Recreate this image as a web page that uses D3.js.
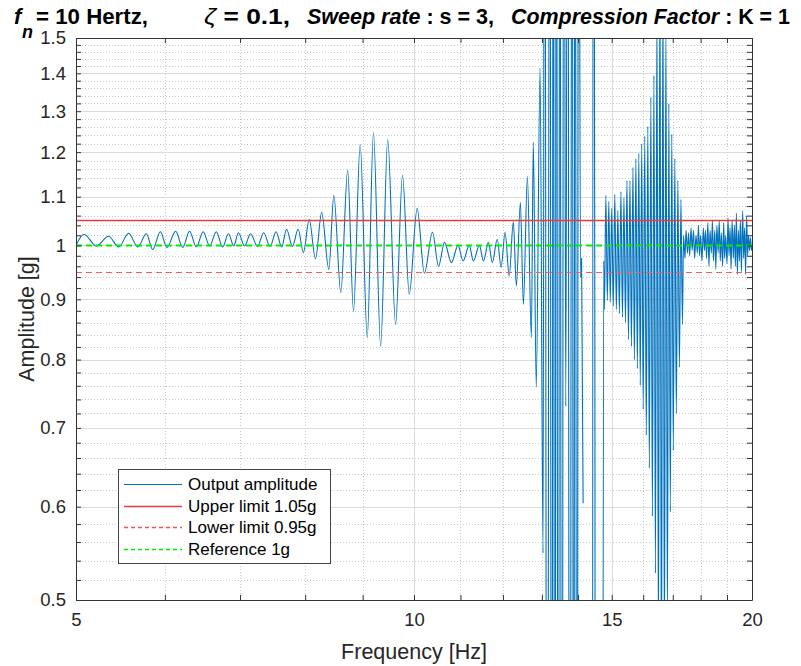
<!DOCTYPE html>
<html>
<head>
<meta charset="utf-8">
<script src="https://cdn.jsdelivr.net/npm/d3@7"></script>
<style>
  body { margin: 0; background: #fff; }
  text { font-family: "Liberation Sans", Arial, sans-serif; }
</style>
</head>
<body>
<svg width="801" height="666"></svg>
<script>
// frequency [Hz] of each sample (null amp = break in the trace)
const freq = [
  5.000, 5.082, 5.214, 5.345, 5.458, 5.570, 5.675, 5.776, 5.851, 5.945,
  6.024, 6.134, 6.223, 6.311, 6.400, 6.489, 6.577, 6.666, 6.755, 6.835,
  6.910, 6.976, 7.065, 7.152, 7.255, 7.347, 7.444, 7.536, 7.624, 7.700,
  7.793, 7.885, 7.971, 8.066, 8.171, 8.275, 8.397, 8.484, 8.606, 8.728,
  8.833, 8.955, 9.086, 9.202, 9.339, 9.475, 9.630, 9.767, 9.903, 10.065,
  10.215, 10.387, 10.516, 10.645, 10.796, 10.946, 11.059, 11.200, 11.294, 11.436,
  11.531, 11.649, 11.743, 11.861, 11.956, 12.054, 12.156, 12.259, 12.336, 12.438,
  12.515, 12.618, 12.721, 12.772, 12.849, 12.951, 13.030,
  13.072, 13.141, 13.210, 13.265, 13.307, 13.348, 13.390, 13.445, 13.486, 13.541,
  13.597, 13.652, 13.707, 13.762, 13.831, 13.873, 13.914, 13.970, 14.012, 14.071,
  14.101, 14.146, 14.300,
  14.414, 14.446, 14.491, 14.521, 14.600, 14.699, 14.756,
  14.777, 14.821, 14.866, 14.911, 14.955, 15.000, 15.048, 15.095, 15.143, 15.190,
  15.238, 15.286, 15.333, 15.381, 15.429, 15.476, 15.524, 15.571, 15.619, 15.667,
  15.714, 15.762, 15.810, 15.857, 15.905, 15.952, 16.000, 16.051, 16.102, 16.153,
  16.203, 16.254, 16.305, 16.356, 16.407, 16.458, 16.508, 16.559, 16.610, 16.661,
  16.712, 16.763, 16.814, 16.864, 16.915, 16.966, 17.018, 17.072, 17.125, 17.179,
  17.233, 17.287, 17.341,
  17.38, 17.43, 17.47, 17.52, 17.56, 17.60, 17.65, 17.69, 17.74, 17.78,
  17.83, 17.88, 17.92, 17.96, 18.00, 18.05, 18.10, 18.14, 18.18, 18.22,
  18.27, 18.31, 18.35, 18.40, 18.44, 18.48, 18.53, 18.57, 18.61, 18.66,
  18.70, 18.74, 18.78, 18.83, 18.87, 18.91, 18.95, 19.00, 19.04, 19.08,
  19.12, 19.16, 19.20, 19.25, 19.29, 19.33, 19.37, 19.41, 19.45, 19.49,
  19.53, 19.57, 19.62, 19.66, 19.70, 19.74, 19.78, 19.82, 19.86, 19.90,
  19.94, 19.98, 20.00
];

// output amplitude [g]
const amp = [
  1.000, 1.022, 0.999, 1.018, 0.997, 1.024, 0.997, 1.023, 0.992, 1.027,
  0.996, 1.028, 0.996, 1.028, 0.997, 1.027, 0.999, 1.027, 0.997, 1.023,
  0.999, 1.025, 0.999, 1.023, 0.998, 1.025, 0.998, 1.027, 0.997, 1.032,
  0.998, 1.032, 0.986, 1.052, 0.974, 1.067, 0.954, 1.103, 0.912, 1.158,
  0.879, 1.218, 0.835, 1.247, 0.821, 1.230, 0.857, 1.147, 0.909, 1.075,
  0.947, 1.026, 0.960, 1.006, 0.967, 1.000, 0.970, 1.000, 0.970, 1.000,
  0.970, 1.006, 0.967, 1.012, 0.958, 1.026, 0.942, 1.047, 0.924, 1.088,
  0.891, 1.144, 0.835, 1.224, 0.758, 1.414, 0.548,
  4, 0.12, 4, 0.12, 4, 0.12, 4, 0.12, 4, 0.12,
  3.5, 0.73, 4, 0.12, 4, 0.12, 4, 0.12, 4, 0.94,
  0.975, 0.604, null,
  0.05, 6, 0.80, 0.05, 0.02, 0.05, 0.97,
  0.882, 1.103, 0.898, 1.090, 0.895, 1.075, 0.888, 1.105, 0.882, 1.071,
  0.875, 1.111, 0.869, 1.098, 0.860, 1.135, 0.832, 1.135, 0.821, 1.165,
  0.800, 1.185, 0.786, 1.197, 0.761, 1.220, 0.726, 1.238, 0.690, 1.262,
  0.647, 1.336, 0.589, 1.394, 0.527, 1.60, 0.45, 1.75, 0.40, 1.70,
  0.44, 1.55, 0.48, 1.320, 0.594, 1.243, 0.670, 1.185, 0.720, 1.135,
  0.788, 1.094, 0.857,
  1.02, 0.975, 1.03, 0.985, 1.025, 0.98, 1.035, 0.99, 1.03, 0.975,
  1.02, 0.985, 1.04, 0.98, 1.02, 0.97, 1.035, 0.99, 1.03, 0.975,
  1.045, 0.96, 1.03, 0.985, 1.05, 0.97, 1.03, 0.955, 1.04, 0.985,
  1.05, 0.97, 1.025, 0.96, 1.045, 0.975, 1.02, 0.965, 1.055, 0.98,
  1.035, 0.955, 1.05, 0.975, 1.04, 0.96, 1.065, 0.945, 1.03, 0.97,
  1.05, 0.95, 1.07, 0.975, 1.035, 0.945, 1.06, 0.98, 1.02, 0.99,
  1.015, 0.99, 1.0
];

const upperLimit = 1.05;
const lowerLimit = 0.95;
const referenceLevel = 1.0;

const xTicks = [5, 10, 15, 20];
const xMinorTicks = [6, 7, 8, 9, 11, 12, 13, 14, 16, 17, 18, 19];
const yTicks = [0.5, 0.6, 0.7, 0.8, 0.9, 1, 1.1, 1.2, 1.3, 1.4, 1.5];
const yMinorTicks = d3.range(0.52, 1.5, 0.02).filter(v => Math.abs(v * 10 - Math.round(v * 10)) > 1e-6);

const legendLabels = ["Output amplitude", "Upper limit 1.05g", "Lower limit 0.95g", "Reference 1g"];

// ---- layout
const plotL = 76, plotR = 752, plotT = 38, plotB = 600;
const svg = d3.select("svg");

const x = d3.scaleLog().domain([5, 20]).range([plotL, plotR]);
const y = d3.scaleLog().domain([0.5, 1.5]).range([plotB, plotT]);
const px = v => Math.round(v) + 0.5;

// grid
const grid = svg.append("g");
grid.selectAll(".ymin").data(yMinorTicks).join("line")
  .attr("x1", plotL).attr("x2", plotR)
  .attr("y1", d => px(y(d))).attr("y2", d => px(y(d)))
  .attr("stroke", "#c8c8c8").attr("stroke-dasharray", "1,2");
grid.selectAll(".xmin").data(xMinorTicks).join("line")
  .attr("y1", plotT).attr("y2", plotB)
  .attr("x1", d => px(x(d))).attr("x2", d => px(x(d)))
  .attr("stroke", "#c8c8c8").attr("stroke-dasharray", "1,2");
grid.selectAll(".ymaj").data(yTicks).join("line")
  .attr("x1", plotL).attr("x2", plotR)
  .attr("y1", d => px(y(d))).attr("y2", d => px(y(d)))
  .attr("stroke", "#dadada");
grid.selectAll(".xmaj").data(xTicks).join("line")
  .attr("y1", plotT).attr("y2", plotB)
  .attr("x1", d => px(x(d))).attr("x2", d => px(x(d)))
  .attr("stroke", "#dadada");

// clip
svg.append("defs").append("clipPath").attr("id", "plotclip")
  .append("rect").attr("x", plotL).attr("y", plotT)
  .attr("width", plotR - plotL).attr("height", plotB - plotT);

const plot = svg.append("g").attr("clip-path", "url(#plotclip)");

const series = freq.map((f, i) => [f, amp[i]]);
const line = d3.line()
  .defined(d => d[1] != null)
  .curve(d3.curveMonotoneX)
  .x(d => x(d[0]))
  .y(d => y(d[1]));

plot.append("path")
  .datum(series)
  .attr("d", line)
  .attr("fill", "none")
  .attr("stroke", "#0072BD")
  .attr("stroke-width", 1.1);

const limitStyles = [
  { v: upperLimit, color: "#f03a3a", dash: null, w: 1.5, snap: true },
  { v: lowerLimit, color: "#ff5a5a", dash: "6,4", w: 1.2, snap: true },
  { v: referenceLevel, color: "#00ee00", dash: "6,4", w: 2, snap: false }
];
limitStyles.forEach(s => {
  const yy = s.snap ? px(y(s.v)) : y(s.v);
  plot.append("path")
    .attr("d", d3.line().x(d => x(d)).y(() => yy)([5, 20]))
    .attr("fill", "none")
    .attr("stroke", s.color)
    .attr("stroke-width", s.w)
    .attr("stroke-dasharray", s.dash);
});

// axes
const axisColor = "#333";
const allX = xTicks.concat(xMinorTicks).sort((a, b) => a - b);
const allY = yTicks.concat(yMinorTicks).sort((a, b) => a - b);
const isMajorY = d => yTicks.some(t => Math.abs(t - d) < 1e-6);

const styleAxis = g => {
  g.select(".domain").attr("stroke", axisColor);
  g.selectAll(".tick line").attr("stroke", axisColor);
  g.selectAll(".tick text").attr("fill", "#262626")
    .style("font-family", '"Liberation Sans", Arial, sans-serif').style("font-size", "18.5px");
};

svg.append("g").attr("transform", `translate(0,${plotB})`)
  .call(d3.axisBottom(x).tickValues(allX).tickSize(-5).tickSizeOuter(0).tickPadding(13)
    .tickFormat(d => xTicks.includes(d) ? d : ""))
  .call(styleAxis);
svg.append("g").attr("transform", `translate(0,${plotT})`)
  .call(d3.axisTop(x).tickValues(allX).tickSize(-5).tickSizeOuter(0).tickFormat(""))
  .call(styleAxis);
svg.append("g").attr("transform", `translate(${plotL},0)`)
  .call(d3.axisLeft(y).tickValues(allY).tickSize(-5).tickSizeOuter(0).tickPadding(10)
    .tickFormat(d => isMajorY(d) ? d3.format("~g")(+d.toFixed(2)) : ""))
  .call(styleAxis);
svg.append("g").attr("transform", `translate(${plotR},0)`)
  .call(d3.axisRight(y).tickValues(allY).tickSize(-5).tickSizeOuter(0).tickFormat(""))
  .call(styleAxis);

// axis labels
svg.append("text")
  .attr("x", (plotL + plotR) / 2).attr("y", 659)
  .attr("text-anchor", "middle")
  .attr("font-size", 21.5).attr("fill", "#262626")
  .text("Frequency [Hz]");
svg.append("text")
  .attr("transform", `translate(34,${(plotT + plotB) / 2}) rotate(-90)`)
  .attr("text-anchor", "middle")
  .attr("font-size", 21.5).attr("fill", "#262626")
  .text("Amplitude [g]");

// title
const title = svg.append("g").attr("font-size", 22).attr("font-weight", "bold").attr("fill", "#000");
title.append("text").attr("x", 14).attr("y", 24).attr("font-style", "italic").text("f");
title.append("text").attr("x", 22).attr("y", 38).attr("font-style", "italic").attr("font-size", 18).text("n");
title.append("text").attr("x", 36).attr("y", 24).attr("textLength", 112)
  .attr("lengthAdjust", "spacingAndGlyphs").text("= 10 Hertz,");
const t2 = title.append("text").attr("x", 204).attr("y", 24).attr("textLength", 86)
  .attr("lengthAdjust", "spacingAndGlyphs");
t2.append("tspan").attr("font-weight", "normal").attr("font-style", "italic").text("ζ");
t2.append("tspan").text(" = 0.1,");
const t3 = title.append("text").attr("x", 307).attr("y", 24).attr("textLength", 187)
  .attr("lengthAdjust", "spacingAndGlyphs");
t3.append("tspan").attr("font-style", "italic").text("Sweep rate");
t3.append("tspan").text(" : s = 3,");
const t4 = title.append("text").attr("x", 511).attr("y", 24).attr("textLength", 279)
  .attr("lengthAdjust", "spacingAndGlyphs");
t4.append("tspan").attr("font-style", "italic").text("Compression Factor");
t4.append("tspan").text(" : K = 1");

// legend
const lg = svg.append("g");
const lgX = 118, lgY = 469, lgW = 212, lgH = 94;
lg.append("rect").attr("x", lgX + 0.5).attr("y", lgY + 0.5)
  .attr("width", lgW).attr("height", lgH)
  .attr("fill", "#fff").attr("stroke", "#444").attr("stroke-width", 1);
const lgStyles = [
  { color: "#0072BD", dash: null, w: 1.2 },
  { color: "#f03a3a", dash: null, w: 1.5 },
  { color: "#ff4d4d", dash: "4,3", w: 1.5 },
  { color: "#00ee00", dash: "4,3", w: 1.6 }
];
legendLabels.forEach((label, i) => {
  const ry = px(484 + i * 21.5);
  lg.append("line").attr("x1", 124).attr("x2", 182).attr("y1", ry).attr("y2", ry)
    .attr("stroke", lgStyles[i].color).attr("stroke-width", lgStyles[i].w)
    .attr("stroke-dasharray", lgStyles[i].dash);
  lg.append("text").attr("x", 188).attr("y", ry).attr("dy", "0.35em")
    .attr("font-size", 17).attr("fill", "#000").text(label);
});
</script>
</body>
</html>
